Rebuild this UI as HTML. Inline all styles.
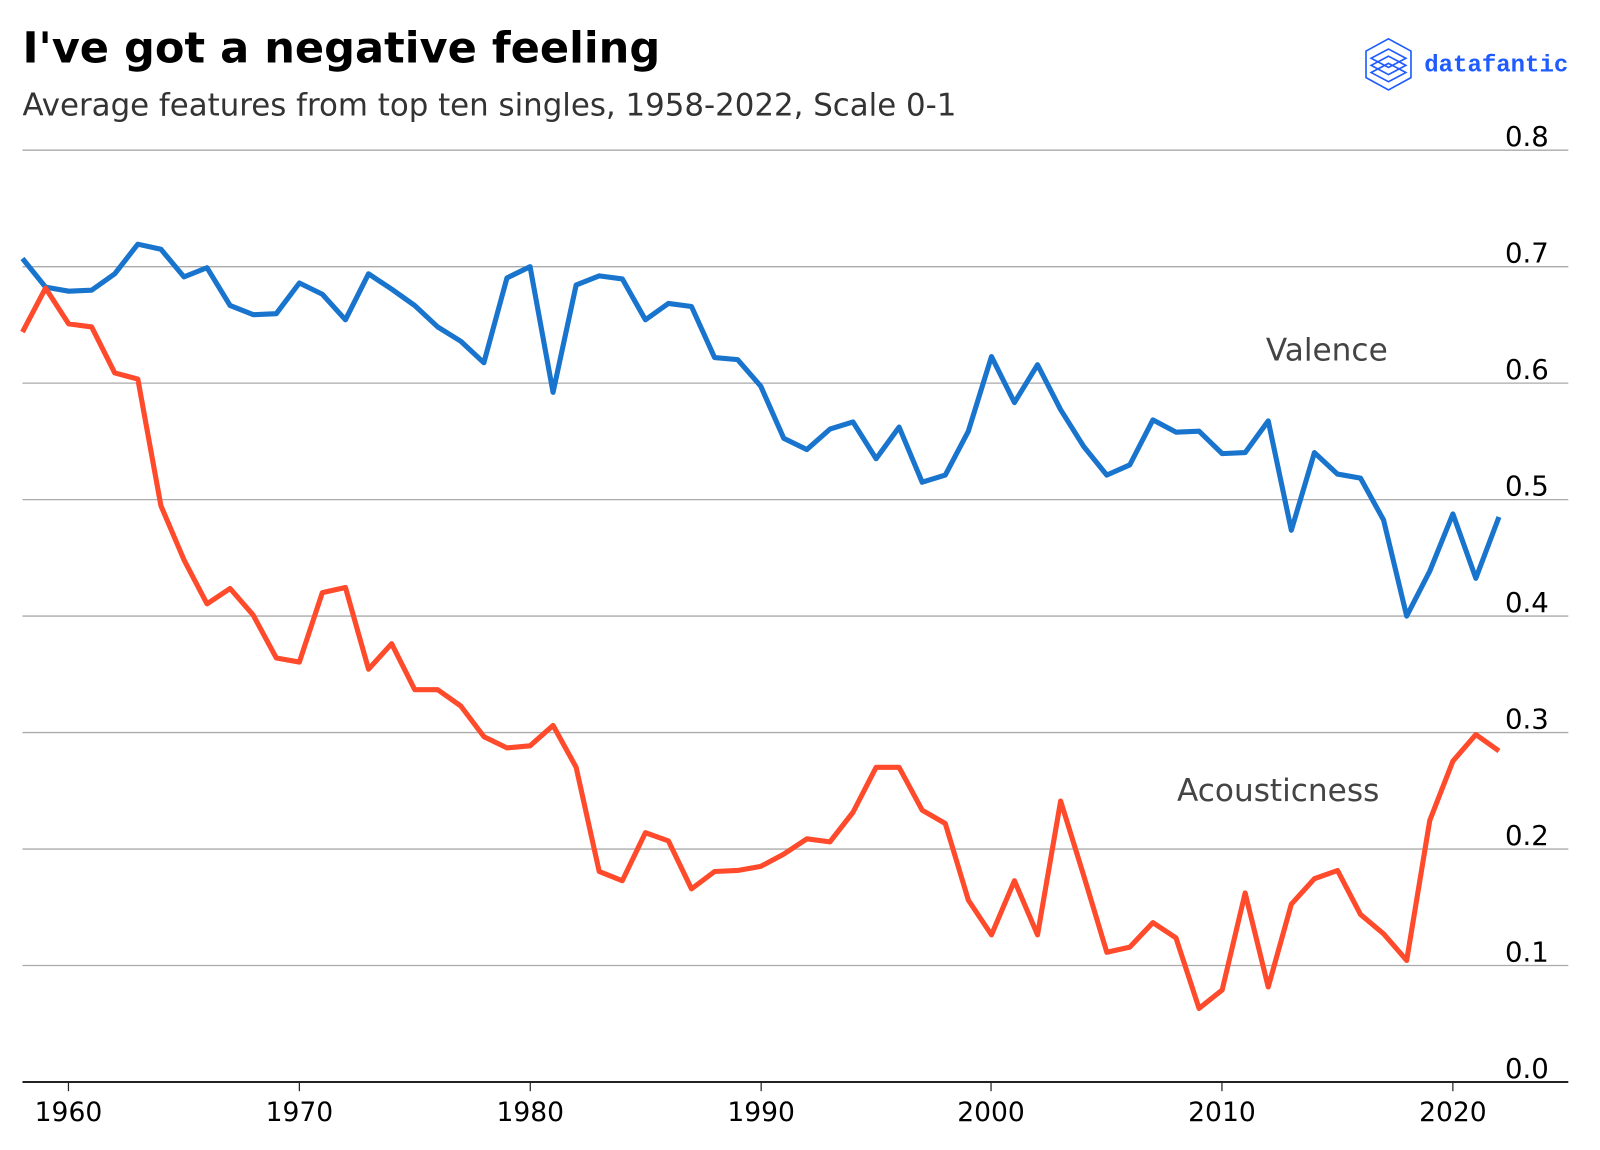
<!DOCTYPE html>
<html><head><meta charset="utf-8"><style>
html,body{margin:0;padding:0;background:#fff;}
svg{display:block;font-family:"DejaVu Sans","Liberation Sans",sans-serif;}
</style></head><body>
<svg id="s" width="1600" height="1150" viewBox="0 0 1600 1150" xmlns="http://www.w3.org/2000/svg">
<rect width="1600" height="1150" fill="#fff"/>
<g transform="scale(1.0217)">
<text x="22" y="61" font-size="42.2" font-weight="bold" fill="#000">I've got a negative feeling</text>
<text x="22" y="113" font-size="30.2" fill="#333">Average features from top ten singles, 1958-2022, Scale 0-1</text>
<g fill="none" stroke="#1f5cff" stroke-width="1.6">
<path d="M1359 38 L1381 50 L1381 76 L1359 88 L1337 76 L1337 50 Z"/>
<path d="M1359 48 L1376 57 L1359 66 L1342 57 Z"/>
<path d="M1359 55 L1376 64 L1359 73 L1342 64 Z"/>
<path d="M1359 62 L1376 71 L1359 80 L1342 71 Z"/>
</g>
<text x="1394" y="70" font-size="23.5" font-weight="bold" fill="#1f5cff" font-family="Liberation Mono, monospace">datafantic</text>
<g stroke="#aaa" stroke-width="1.3">
<line x1="22" x2="1535" y1="147" y2="147"/><line x1="22" x2="1535" y1="261" y2="261"/>
<line x1="22" x2="1535" y1="375" y2="375"/><line x1="22" x2="1535" y1="489" y2="489"/>
<line x1="22" x2="1535" y1="603" y2="603"/><line x1="22" x2="1535" y1="717" y2="717"/>
<line x1="22" x2="1535" y1="831" y2="831"/><line x1="22" x2="1535" y1="945" y2="945"/>
</g>
<g font-size="27" fill="#000">
<text x="1473" y="143">0.8</text><text x="1473" y="257">0.7</text><text x="1473" y="371">0.6</text>
<text x="1473" y="485">0.5</text><text x="1473" y="599">0.4</text><text x="1473" y="713">0.3</text>
<text x="1473" y="827">0.2</text><text x="1473" y="941">0.1</text><text x="1473" y="1055">0.0</text>
</g>
<line x1="22" x2="1535" y1="1059" y2="1059" stroke="#222" stroke-width="2"/>
<g stroke="#222" stroke-width="1.2">
<line x1="67" x2="67" y1="1059" y2="1068"/><line x1="293" x2="293" y1="1059" y2="1068"/>
<line x1="519" x2="519" y1="1059" y2="1068"/><line x1="745" x2="745" y1="1059" y2="1068"/>
<line x1="970" x2="970" y1="1059" y2="1068"/><line x1="1196" x2="1196" y1="1059" y2="1068"/>
<line x1="1422" x2="1422" y1="1059" y2="1068"/>
</g>
<g font-size="26" fill="#000" text-anchor="middle">
<text x="67" y="1097">1960</text><text x="293" y="1097">1970</text><text x="519" y="1097">1980</text>
<text x="745" y="1097">1990</text><text x="970" y="1097">2000</text><text x="1196" y="1097">2010</text>
<text x="1422" y="1097">2020</text>
</g>
<polyline id="v" fill="none" stroke="#1874cd" stroke-width="5" stroke-linejoin="round"/>
<polyline id="a" fill="none" stroke="#ff4a2b" stroke-width="5" stroke-linejoin="round"/>
<text x="1239" y="353" font-size="30.5" fill="#444">Valence</text>
<text x="1152" y="784" font-size="30.5" fill="#444">Acousticness</text>
</g>
</svg>
<script>
var V=[253,281,285,284,268,239,244,271,262,299,308,307,277,288,313,268,283,299,320,334,355,272,261,384,279,270,273,313,297,300,350,352,378,429,440,420,413,449,418,472,465,422,349,394,357,401,437,465,455,411,423,422,444,443,412,519,443,464,468,509,603,559,503,566,506];
var A=[325,282,317,320,365,371,495,548,591,576,602,644,648,580,575,655,630,675,675,691,721,732,730,710,751,853,862,815,823,870,853,852,848,836,821,824,795,751,751,793,806,881,915,862,915,784,857,932,927,903,918,987,969,874,966,885,860,852,895,914,940,803,745,719,735];
function p(arr){return arr.map(function(y,i){return (22+i*22.58).toFixed(1)+","+y}).join(" ");}
document.getElementById("v").setAttribute("points",p(V));
document.getElementById("a").setAttribute("points",p(A));
</script>
</body></html>
